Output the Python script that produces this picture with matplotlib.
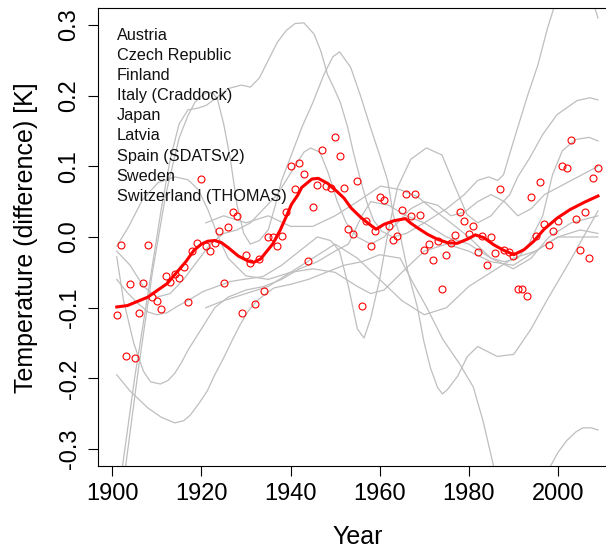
import matplotlib
matplotlib.use("Agg")
import matplotlib.pyplot as plt

plt.rcParams["font.family"] = ["Liberation Sans", "DejaVu Sans"]

# Annual mean anomaly (K), 1901-2009
years = list(range(1901, 2010))
anomaly = [
    -0.110, -0.012, -0.168, -0.066, -0.171, -0.107, -0.065, -0.012, -0.085, -0.090,
    -0.102, -0.055, -0.064, -0.052, -0.058, -0.042, -0.092, -0.020, -0.008, 0.082,
    -0.013, -0.020, -0.008, 0.009, -0.065, 0.014, 0.036, 0.030, -0.108, -0.026,
    -0.037, -0.095, -0.031, -0.076, 0.000, 0.000, -0.013, 0.001, 0.035, 0.101,
    0.068, 0.104, 0.089, -0.034, 0.042, 0.074, 0.123, 0.072, 0.069, 0.141,
    0.114, 0.070, 0.011, 0.004, 0.079, -0.097, 0.022, -0.013, 0.009, 0.057,
    0.052, 0.016, -0.004, 0.002, 0.038, 0.061, 0.030, 0.061, 0.031, -0.018,
    -0.010, -0.033, -0.005, -0.074, -0.025, -0.008, 0.003, 0.035, 0.022, 0.004,
    0.015, -0.021, 0.001, -0.040, 0.000, -0.023, 0.068, -0.018, -0.021, -0.027,
    -0.074, -0.073, -0.083, 0.057, 0.002, 0.078, 0.018, -0.012, 0.009, 0.022,
    0.100, 0.098, 0.137, 0.025, -0.018, 0.035, -0.030, 0.083, 0.098,
]

# Smoothed mean curve
smooth_years = [1901.0, 1903.4, 1905.7, 1908.0, 1910.0, 1912.3, 1914.6, 1916.5, 1918.3, 1920.0,
                1921.4, 1923.0, 1924.5, 1926.0, 1928.3, 1930.5, 1931.7, 1933.3, 1934.7, 1936.0,
                1937.7, 1939.4, 1940.2, 1941.7, 1942.5, 1944.8, 1946.2, 1948.3, 1950.5, 1952.0,
                1953.6, 1955.9, 1957.3, 1959.2, 1961.0, 1963.2, 1965.8, 1966.9, 1968.5, 1970.7,
                1972.9, 1975.2, 1977.4, 1979.7, 1981.5, 1983.4, 1985.6, 1987.9, 1990.1, 1992.4,
                1994.6, 1996.9, 1999.9, 2002.8, 2005.9, 2009.0]
smooth_vals = [-0.099, -0.097, -0.091, -0.085, -0.076, -0.066, -0.049, -0.035, -0.019, -0.010,
               -0.006, -0.005, -0.008, -0.015, -0.027, -0.034, -0.036, -0.031, -0.020, -0.010,
               0.010, 0.034, 0.046, 0.060, 0.070, 0.082, 0.083, 0.076, 0.064, 0.055,
               0.041, 0.027, 0.020, 0.011, 0.018, 0.023, 0.026, 0.020, 0.013, 0.004,
               -0.003, -0.008, -0.009, -0.003, 0.003, -0.001, -0.011, -0.019, -0.025, -0.018,
               -0.006, 0.011, 0.027, 0.039, 0.049, 0.058]

# Individual smoothed series (grey)
trend_1_years = [1901.5, 1902.3, 1905, 1908, 1911, 1913, 1915, 1917, 1919, 1921, 1923, 1926,
                 1929, 1931, 1933, 1935, 1937, 1939, 1941, 1943, 1945.3, 1946.8, 1948.3, 1949.8,
                 1951.2, 1952.8, 1954.1, 1955.7, 1957.2, 1958.6, 1960.5, 1963, 1966, 1970, 1975,
                 1979, 1982, 1984.5, 1986.5, 1987.8, 1989.4, 1991, 1993.2, 1995.5, 1997.7,
                 1999.1, 2001, 2003.5, 2006, 2008, 2009]
trend_1_vals = [-0.36, -0.324, -0.2, -0.08, 0.04, 0.11, 0.16, 0.18, 0.182, 0.186, 0.195,
                0.21, 0.215, 0.212, 0.225, 0.25, 0.275, 0.292, 0.302, 0.303, 0.287, 0.263, 0.23,
                0.21, 0.19, 0.156, 0.12, 0.081, 0.048, 0.024, 0.008, 0.0, 0.005, 0.02, 0.04,
                0.06, 0.08, 0.085, 0.08, 0.088, 0.122, 0.155, 0.2, 0.243, 0.296, 0.324, 0.37,
                0.395, 0.37, 0.33, 0.31]

trend_2_years = [1902.3, 1903.0, 1906, 1909, 1912, 1915, 1917, 1918.5, 1920, 1921.4, 1922.7,
                 1923.6, 1925, 1926.5, 1928, 1929.5, 1931, 1933, 1935, 1936.6, 1938, 1940,
                 1942.6, 1945, 1947.5, 1949.5, 1951, 1953.5, 1955.7, 1958.0, 1960.2, 1961.8,
                 1963.1, 1964.7, 1966.3, 1968.5, 1969.9, 1971.4, 1973.0, 1974.1, 1975.2, 1977.5,
                 1979.7, 1982, 1986.4, 1990.1, 1993.9, 1997.6, 2002.9, 2009]
trend_2_vals = [-0.36, -0.324, -0.18, -0.05, 0.06, 0.14, 0.172, 0.19, 0.2, 0.205, 0.203,
                0.195, 0.16, 0.11, 0.045, 0.005, -0.01, -0.005, 0.01, 0.045, 0.08, 0.113,
                0.156, 0.19, 0.23, 0.255, 0.262, 0.24, 0.2, 0.154, 0.112, 0.08, 0.03, 0.0,
                -0.048, -0.1, -0.147, -0.185, -0.213, -0.222, -0.216, -0.197, -0.169, -0.155,
                -0.169, -0.166, -0.131, -0.089, -0.032, 0.037]

trend_3_years = [1901, 1904, 1908, 1911, 1914, 1916, 1917.5, 1919.5, 1921.3, 1923, 1925, 1927,
                 1928.7, 1930.5, 1932.5, 1934.5, 1936.3, 1940, 1944, 1948, 1952, 1956, 1960,
                 1964.6, 1967.5, 1970.6, 1974.2, 1978, 1981, 1983.2, 1985.5, 1987, 1990, 1993,
                 1996, 1998.2, 2000, 2002, 2004, 2005.6, 2007.5, 2009]
trend_3_vals = [-0.195, -0.218, -0.242, -0.255, -0.263, -0.26, -0.252, -0.235, -0.218, -0.195,
                -0.171, -0.145, -0.124, -0.105, -0.09, -0.08, -0.072, -0.067, -0.06, -0.05,
                -0.04, -0.035, -0.025, -0.03, -0.065, -0.1, -0.145, -0.18, -0.212, -0.26,
                -0.322, -0.37, -0.42, -0.43, -0.38, -0.326, -0.305, -0.288, -0.276, -0.27,
                -0.27, -0.273]

trend_4_years = [1901, 1902.5, 1904.8, 1907, 1908.6, 1910.8, 1912.5, 1914, 1915.5, 1917, 1919,
                 1921, 1923, 1926, 1930, 1934, 1938, 1942, 1946, 1950, 1953, 1956, 1958, 1962,
                 1966, 1970, 1975, 1980, 1985, 1988, 1991, 1993.5, 1995, 1996.6, 1998.8, 2001,
                 2004, 2007, 2009]
trend_4_vals = [-0.028, -0.089, -0.15, -0.19, -0.205, -0.208, -0.203, -0.193, -0.178, -0.16,
                -0.14, -0.12, -0.1, -0.085, -0.075, -0.07, -0.06, -0.045, -0.035, -0.02, -0.01,
                0.03, 0.05, 0.045, 0.03, 0.02, 0.0, -0.01, -0.03, -0.035, -0.03, -0.01, 0.01,
                0.03, 0.088, 0.122, 0.138, 0.141, 0.136]

trend_5_years = [1901, 1903.7, 1906.8, 1910.3, 1914.1, 1917, 1919.3, 1921.5, 1923.8, 1926, 1930,
                 1935, 1940, 1945, 1950, 1955, 1958, 1961, 1965, 1970, 1975, 1980, 1985, 1990,
                 1995, 2000, 2005, 2009]
trend_5_vals = [-0.013, 0.015, 0.053, 0.077, 0.085, 0.081, 0.067, 0.038, 0.0, -0.03, -0.055,
                -0.06, -0.05, -0.045, -0.05, -0.07, -0.08, -0.075, -0.05, -0.02, -0.01, -0.02,
                -0.035, -0.04, -0.02, 0.0, 0.0, 0.0]

trend_6_years = [1901, 1903.4, 1905.6, 1908, 1910, 1912.3, 1914.6, 1917.5, 1920.4, 1923.5,
                 1926.5, 1929.4, 1933.8, 1938, 1942, 1946, 1949, 1951, 1953, 1955, 1956.5, 1958,
                 1960, 1962, 1964, 1967, 1970.5, 1974, 1977, 1979.6, 1982, 1985, 1987, 1989.2,
                 1991, 1993.7, 1996.6, 1999.8, 2004.3, 2007.2, 2009]
trend_6_vals = [-0.06, -0.079, -0.093, -0.106, -0.11, -0.107, -0.098, -0.088, -0.077, -0.07,
                -0.063, -0.06, -0.056, -0.04, -0.02, 0.0, -0.005, -0.02, -0.07, -0.13, -0.143,
                -0.115, -0.06, 0.01, 0.07, 0.11, 0.126, 0.116, 0.07, 0.032, 0.02, 0.03, 0.045,
                0.06, 0.085, 0.112, 0.145, 0.173, 0.193, 0.197, 0.194]

trend_7_years = [1901, 1904, 1907, 1910, 1913, 1916, 1919, 1922, 1925, 1928, 1931, 1934, 1937,
                 1940, 1943, 1944.5, 1946.6, 1948.5, 1950.5, 1952.5, 1955, 1958, 1961, 1964,
                 1967, 1970, 1973, 1976, 1979, 1982, 1985, 1988, 1991, 1994, 1997, 2000, 2003,
                 2006, 2009]
trend_7_vals = [-0.02, -0.04, -0.07, -0.085, -0.08, -0.06, -0.035, -0.01, 0.005, 0.01, 0.02,
                0.04, 0.06, 0.09, 0.12, 0.126, 0.12, 0.09, 0.05, 0.02, 0.0, -0.01, 0.0, 0.02,
                0.04, 0.05, 0.045, 0.03, 0.035, 0.05, 0.06, 0.05, 0.03, 0.04, 0.06, 0.07, 0.08,
                0.09, 0.1]

trend_8_years = [1921, 1925, 1930, 1935, 1940, 1945, 1950, 1955, 1960.2, 1964.6, 1968.5, 1972.2,
                 1976, 1980, 1985, 1990, 1994, 1998, 2003, 2009]
trend_8_vals = [0.02, 0.03, 0.02, 0.03, 0.015, 0.015, 0.03, 0.05, 0.072, 0.067, 0.057, 0.038,
                0.02, 0.0, -0.03, -0.045, -0.03, 0.0, 0.02, 0.03]

trend_9_years = [1921, 1925, 1930, 1935, 1940, 1945, 1950, 1955, 1960, 1965, 1970, 1975, 1980,
                 1985, 1990, 1995, 2000, 2005, 2009]
trend_9_vals = [-0.1, -0.09, -0.08, -0.07, -0.05, -0.03, -0.01, -0.03, -0.06, -0.09, -0.11,
                -0.1, -0.07, -0.05, -0.03, -0.02, 0.0, 0.01, 0.005]

trend_years = [trend_1_years, trend_2_years, trend_3_years, trend_4_years, trend_5_years,
               trend_6_years, trend_7_years, trend_8_years, trend_9_years]
trend_vals = [trend_1_vals, trend_2_vals, trend_3_vals, trend_4_vals, trend_5_vals,
              trend_6_vals, trend_7_vals, trend_8_vals, trend_9_vals]

countries = ["Austria", "Czech Republic", "Finland", "Italy (Craddock)", "Japan", "Latvia",
             "Spain (SDATSv2)", "Sweden", "Switzerland (THOMAS)"]

x_ticks = [1900, 1920, 1940, 1960, 1980, 2000]
y_ticks = [-0.3, -0.2, -0.1, 0.0, 0.1, 0.2, 0.3]
y_tick_labels = ["-0.3", "-0.2", "-0.1", "0.0", "0.1", "0.2", "0.3"]

W, H = 606, 549
fig = plt.figure(figsize=(W / 100, H / 100), dpi=100)
left_px, right_px, top_px, bottom_px = 97.5, 617.2, 8.0, 466.0
ax = fig.add_axes([left_px / W, (H - bottom_px) / H,
                   (right_px - left_px) / W, (bottom_px - top_px) / H])

for yy, vv in zip(trend_years, trend_vals):
    ax.plot(yy, vv, color="#BEBEBE", lw=0.9, zorder=1)

ax.plot(years, anomaly, linestyle="none", marker="o", markersize=5.0,
        markerfacecolor="none", markeredgecolor="red", markeredgewidth=0.8, zorder=2)
ax.plot(smooth_years, smooth_vals, color="red", lw=2.2, zorder=3)

ax.set_xlim(1896.68, 2013.32)
ax.set_ylim(-0.324, 0.324)
ax.set_xticks(x_ticks)
ax.set_yticks(y_ticks)
ax.set_yticklabels(y_tick_labels)
ax.tick_params(axis="both", direction="out", length=7.2, width=0.8, labelsize=17,
               color="black")
ax.tick_params(axis="x", pad=5.4)
ax.tick_params(axis="y", pad=5.0)
for lab in ax.get_yticklabels():
    lab.set_rotation(90)
    lab.set_va("center")
for sp in ax.spines.values():
    sp.set_linewidth(0.8)

# country list
for i, name in enumerate(countries):
    y_px = 39.5 + i * 20.2
    fig.text(116.7 / W, (H - y_px) / H, name, fontsize=11.7, color="#111111",
             ha="left", va="baseline")

fig.text((left_px + right_px) / 2 / W, 5.0 / H, "Year", fontsize=18,
         ha="center", va="baseline")
fig.text(33 / W, (H - 237.5) / H, "Temperature (difference) [K]", fontsize=18,
         rotation=90, rotation_mode="anchor", ha="center", va="baseline")

fig.savefig("out.png", dpi=100)
